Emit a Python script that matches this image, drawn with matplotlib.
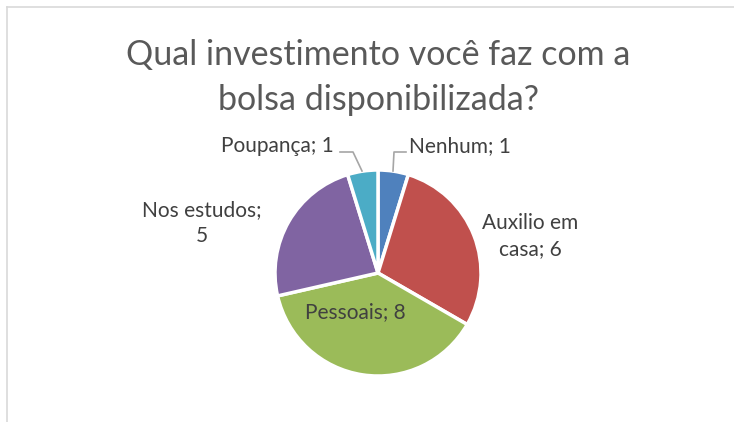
import numpy as np
import matplotlib.pyplot as plt
from matplotlib.lines import Line2D

categories = ['Nenhum', 'Auxilio em casa', 'Pessoais', 'Nos estudos', 'Poupança']
values = [1, 6, 8, 5, 1]
colors = ['#4F81BD', '#C0504D', '#9BBB59', '#8064A2', '#4BACC6']
label_texts = ['Nenhum; 1', 'Auxilio em\ncasa; 6', 'Pessoais; 8', 'Nos estudos;\n5', 'Poupança; 1']

plt.rcParams['font.family'] = ['Lato', 'DejaVu Sans']

W, H = 734, 422
fig = plt.figure(figsize=(W / 100, H / 100), dpi=100)


def px(x, y):
    # pixel (from top-left) -> figure fraction
    return x / W, 1 - y / H


# chart border
fig.add_artist(Line2D([7 / W, 7 / W], [0, 1 - 7 / H], transform=fig.transFigure, color='#d9d9d9', lw=1.2))
fig.add_artist(Line2D([7 / W, 1], [1 - 7 / H, 1 - 7 / H], transform=fig.transFigure, color='#d9d9d9', lw=1.2))

# title
fig.text(*px(378, 55), 'Qual investimento você faz com a', ha='center', va='center',
         fontsize=24.5, color='#595959')
fig.text(*px(378, 100), 'bolsa disponibilizada?', ha='center', va='center',
         fontsize=24.5, color='#595959')

cx, cy, r = 378, 273, 103
ax = fig.add_axes([(cx - r) / W, 1 - (cy + r) / H, 2 * r / W, 2 * r / H])
wedges, _ = ax.pie(values, colors=colors, startangle=90, counterclock=False,
                   radius=1.0, wedgeprops=dict(edgecolor='white', linewidth=2.5))
ax.set_xlim(-1, 1)
ax.set_ylim(-1, 1)
ax.set_aspect('auto')
ax.axis('off')

lab_col = '#404040'
fs = 15
fig.text(*px(409, 146), label_texts[0], ha='left', va='center', fontsize=fs, color=lab_col)
fig.text(*px(530, 236), label_texts[1], ha='center', va='center', fontsize=fs, color=lab_col,
         linespacing=1.35)
fig.text(*px(355, 312), label_texts[2], ha='center', va='center', fontsize=fs, color=lab_col)
fig.text(*px(202, 223), label_texts[3], ha='center', va='center', fontsize=fs, color=lab_col,
         linespacing=1.35)
fig.text(*px(334, 146), label_texts[4], ha='right', va='center', fontsize=fs, color=lab_col)

# leader lines
lc = '#a6a6a6'
fig.add_artist(Line2D([px(406, 0)[0], px(394, 0)[0], px(393, 0)[0]],
                      [px(0, 152)[1], px(0, 152)[1], px(0, 171)[1]],
                      transform=fig.transFigure, color=lc, lw=1.2))
fig.add_artist(Line2D([px(340, 0)[0], px(353, 0)[0], px(362, 0)[0]],
                      [px(0, 152)[1], px(0, 152)[1], px(0, 171)[1]],
                      transform=fig.transFigure, color=lc, lw=1.2))

fig.savefig('out.png', dpi=100)
